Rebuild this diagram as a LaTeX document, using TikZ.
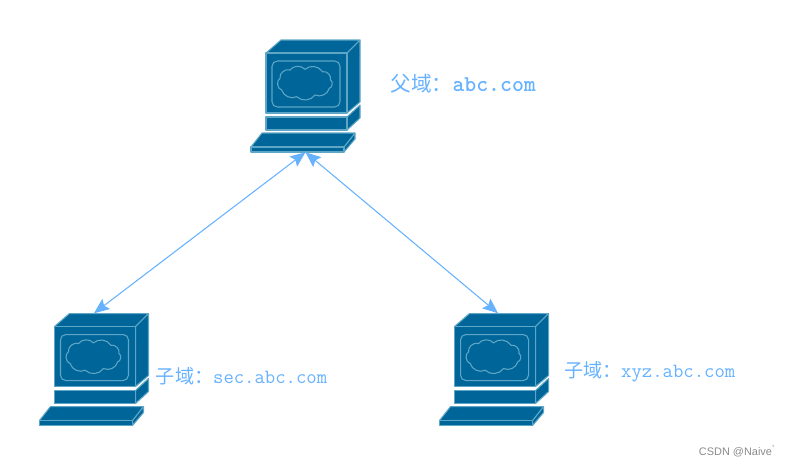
\documentclass[tikz,border=0pt]{standalone}
\usepackage{fontspec}
\usepackage{xcolor}
\usetikzlibrary{arrows.meta, positioning, calc}
\setsansfont{Liberation Sans}
\newfontfamily\cjk{Noto Sans CJK SC}
\definecolor{host}{HTML}{006699}
\definecolor{rim}{HTML}{5FA6C6}
\definecolor{link}{HTML}{66B2FF}
\definecolor{mark}{HTML}{8A8A8A}

\begin{document}
\begin{tikzpicture}[x=.75pt, y=-.75pt, >={Stealth[length=11.5pt, width=9.5pt, inset=2pt]},
    box/.style={minimum width=81.75pt, minimum height=84pt, inner sep=0pt},
    big/.style={text=link, font=\fontsize{15.5}{18}\selectfont, inner sep=0pt},
    small/.style={text=link, font=\fontsize{14.3}{18}\selectfont, inner sep=0pt},
    computer/.pic={
      \begin{scope}[draw=rim, fill=host, line width=.8pt, line join=round]
        \filldraw (-39.5,-43) -- (-24.5,-56) -- (54.5,-56) -- (41.5,-43) -- cycle;
        \filldraw (41.5,-43) -- (54.5,-56) -- (54.5,6) -- (41.5,17) -- cycle;
        \filldraw (-39.5,-43) rectangle (41.5,17);
        \filldraw (41.5,21) -- (54.5,9) -- (54.5,22) -- (41.5,34) -- cycle;
        \filldraw (-39.5,21) rectangle (41.5,34);
        \filldraw (49.5,37) -- (49.5,43) -- (38.5,56) -- (38.5,51) -- cycle;
        \filldraw (-43.5,37) -- (49.5,37) -- (38.5,51) -- (-54.5,51) -- cycle;
        \filldraw (-54.5,51) rectangle (38.5,56);
        \draw[rounded corners=4pt] (-33.5,-35) rectangle (34.5,11);
        \draw (-25.5,-17.7) to[bend left=60] (-15.5,-26) to[bend left=50] (-.5,-26.7)
          to[bend left=50] (17,-24.3) to[bend left=60] (25,-16) to[bend left=70] (23.8,-7.7)
          to[bend left=50] (9.5,-1) to[bend left=50] (-8.8,.7) to[bend left=50] (-23.8,-6)
          to[bend left=70] cycle;
      \end{scope}
    }]
  \useasboundingbox (0,0) rectangle (790,465);

  % the three computers
  \node[box] (parent) at (305.5,96) {};
  \node[box, below left=120.75pt and 76.5pt of parent] (secdom) {};
  \node[box, below right=120.75pt and 59.25pt of parent] (xyzdom) {};
  \pic at (parent) {computer};
  \pic at (secdom) {computer};
  \pic at (xyzdom) {computer};

  \draw[<->, link, line width=.8pt] (parent.south) -- (secdom.north);
  \draw[<->, link, line width=.8pt] (parent.south) -- ([xshift=3pt]xyzdom.north);

  % labels
  \node[big, right=22.5pt of parent, yshift=9.5pt] (parentlabel) {{\cjk 父域：}\fontsize{17}{18}\selectfont\ttfamily\bfseries abc.com};
  \node[small, right=5.2pt of secdom, yshift=-4.7pt] (seclabel) {{\cjk 子域：}\fontsize{15.1}{18}\selectfont\ttfamily sec.abc.com};
  \node[small, right=11.2pt of xyzdom, yshift=-2pt] (xyzlabel) {{\cjk 子域：}\fontsize{15.1}{18}\selectfont\ttfamily xyz.abc.com};
  \node[text=mark, font=\sffamily\fontsize{8.2}{9}\selectfont, inner sep=0pt] (csdn) at (737,451) {CSDN @Naive\`{}};
\end{tikzpicture}
\end{document}
